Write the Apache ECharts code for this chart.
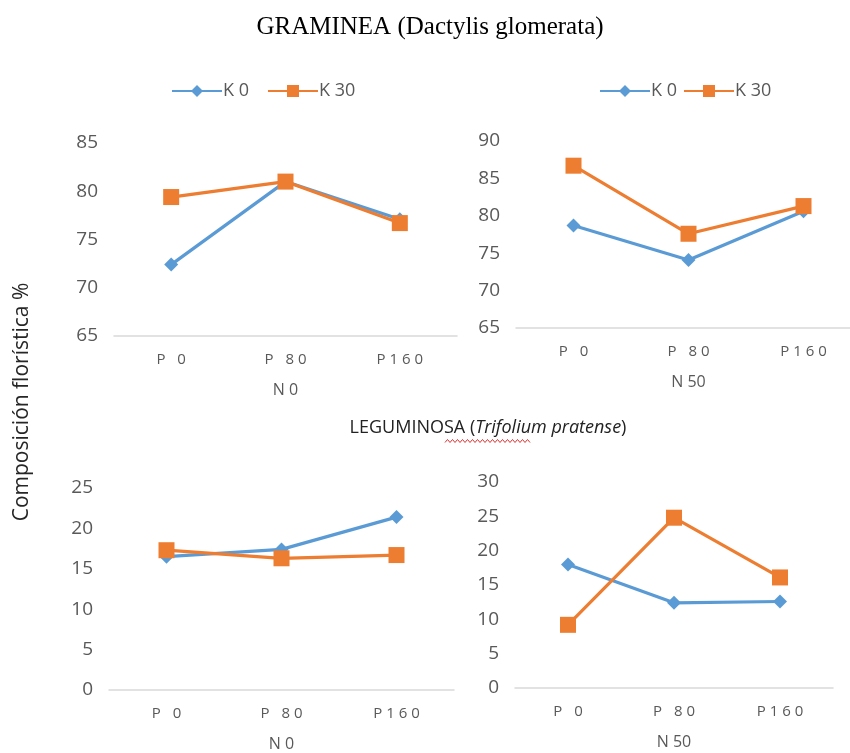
<!DOCTYPE html>
<html>
<head>
<meta charset="utf-8">
<script src="https://cdn.jsdelivr.net/npm/echarts@6/dist/echarts.min.js"></script>
<style>html,body{margin:0;padding:0;background:#fff;overflow:hidden}#c{width:880px;height:753px}</style>
</head>
<body>
<div id="c"></div>
<script>
const categories = ['P 0', 'P 80', 'P160'];
const seriesNames = ['K 0', 'K 30'];
const panelNames = ['N 0', 'N 50', 'N 0', 'N 50'];
// Graminea N0
const gramN0_K0 = [72.4, 81.0, 77.1];
const gramN0_K30 = [79.4, 81.0, 76.7];
// Graminea N50
const gramN50_K0 = [78.7, 74.1, 80.6];
const gramN50_K30 = [86.7, 77.6, 81.3];
// Leguminosa N0
const legN0_K0 = [16.5, 17.4, 21.4];
const legN0_K30 = [17.3, 16.3, 16.7];
// Leguminosa N50
const legN50_K0 = [18.0, 12.4, 12.6];
const legN50_K30 = [9.2, 24.8, 16.1];
const yMins = [65, 65, 0, 0];
const yMaxs = [85, 90, 25, 30];
const yInterval = 5;

const BLUE = '#5B9BD5', ORANGE = '#ED7D31', GREY = '#595959';
const grids = [
  {left: 114, top: 143, width: 343, height: 193},
  {left: 516, top: 141, width: 345, height: 187},
  {left: 109, top: 488, width: 345, height: 203},
  {left: 515, top: 482, width: 318, height: 206}
];
const spaced = s => s.split('').join('\u2009\u200A');
const xAxes = grids.map((g, i) => ({
  type: 'category', gridIndex: i, data: categories, boundaryGap: true,
  axisLine: {lineStyle: {color: '#d9d9d9', width: 1.5}},
  axisTick: {show: false},
  axisLabel: {color: GREY, fontSize: 15, fontFamily: 'Open Sans', margin: 16, formatter: v => spaced(v)},
  name: panelNames[i], nameLocation: 'middle', nameGap: 46,
  nameTextStyle: {color: GREY, fontSize: 16, fontFamily: 'Open Sans'}
}));
const yAxes = grids.map((g, i) => ({
  type: 'value', gridIndex: i, min: yMins[i], max: yMaxs[i], interval: yInterval,
  axisLine: {show: false}, axisTick: {show: false}, splitLine: {show: false},
  axisLabel: {color: GREY, fontSize: 19, fontFamily: 'Open Sans', margin: 16}
}));
const data = [[gramN0_K0, gramN0_K30], [gramN50_K0, gramN50_K30], [legN0_K0, legN0_K30], [legN50_K0, legN50_K30]];
const series = [];
data.forEach((pair, i) => {
  series.push({name: seriesNames[0], type: 'line', xAxisIndex: i, yAxisIndex: i, data: pair[0],
    symbol: 'diamond', symbolSize: 14, color: BLUE, lineStyle: {width: 3.2, color: BLUE},
    itemStyle: {color: BLUE}, z: 2});
  series.push({name: seriesNames[1], type: 'line', xAxisIndex: i, yAxisIndex: i, data: pair[1],
    symbol: 'rect', symbolSize: 16, color: ORANGE, lineStyle: {width: 3.2, color: ORANGE},
    itemStyle: {color: ORANGE}, z: 3});
});
// wavy underline (decoration)
const wave = [];
for (let x = 445; x <= 530; x += 2.5) wave.push([x, 441 + ((Math.round((x - 445) / 2.5) % 2) ? -1.5 : 1.5)]);

const legendBase = {
  data: seriesNames, itemWidth: 50, itemHeight: 15,
  textStyle: {color: GREY, fontSize: 18, fontFamily: 'Open Sans', padding: [0, 0, 0, -4]}
};
const chart = echarts.init(document.getElementById('c'));
chart.setOption({
  animation: false,
  grid: grids,
  xAxis: xAxes,
  yAxis: yAxes,
  legend: [
    Object.assign({}, legendBase, {left: 166, top: 77, itemGap: 18}),
    Object.assign({}, legendBase, {left: 594, top: 77, itemGap: 6})
  ],
  series: series,
  graphic: [
    {type: 'text', x: 430, y: 27, style: {text: 'GRAMINEA (Dactylis glomerata)', align: 'center', verticalAlign: 'middle', font: '25px "Liberation Serif"', fill: '#000'}},
    {type: 'text', x: 488, y: 428, style: {
      text: 'LEGUMINOSA ({i|Trifolium pratense})', align: 'center', verticalAlign: 'middle',
      font: '18px "Open Sans"', fill: '#222',
      rich: {i: {fontStyle: 'italic', fontSize: 18, fontFamily: 'Open Sans', fill: '#222'}}
    }},
    {type: 'polyline', shape: {points: wave}, style: {stroke: '#e03030', lineWidth: 1, fill: null}},
    {type: 'text', x: 22, y: 402, rotation: Math.PI / 2, style: {
      text: 'Composición florística %', align: 'center', verticalAlign: 'middle',
      font: '21px "Open Sans"', fill: '#262626'
    }}
  ]
});
</script>
</body>
</html>
